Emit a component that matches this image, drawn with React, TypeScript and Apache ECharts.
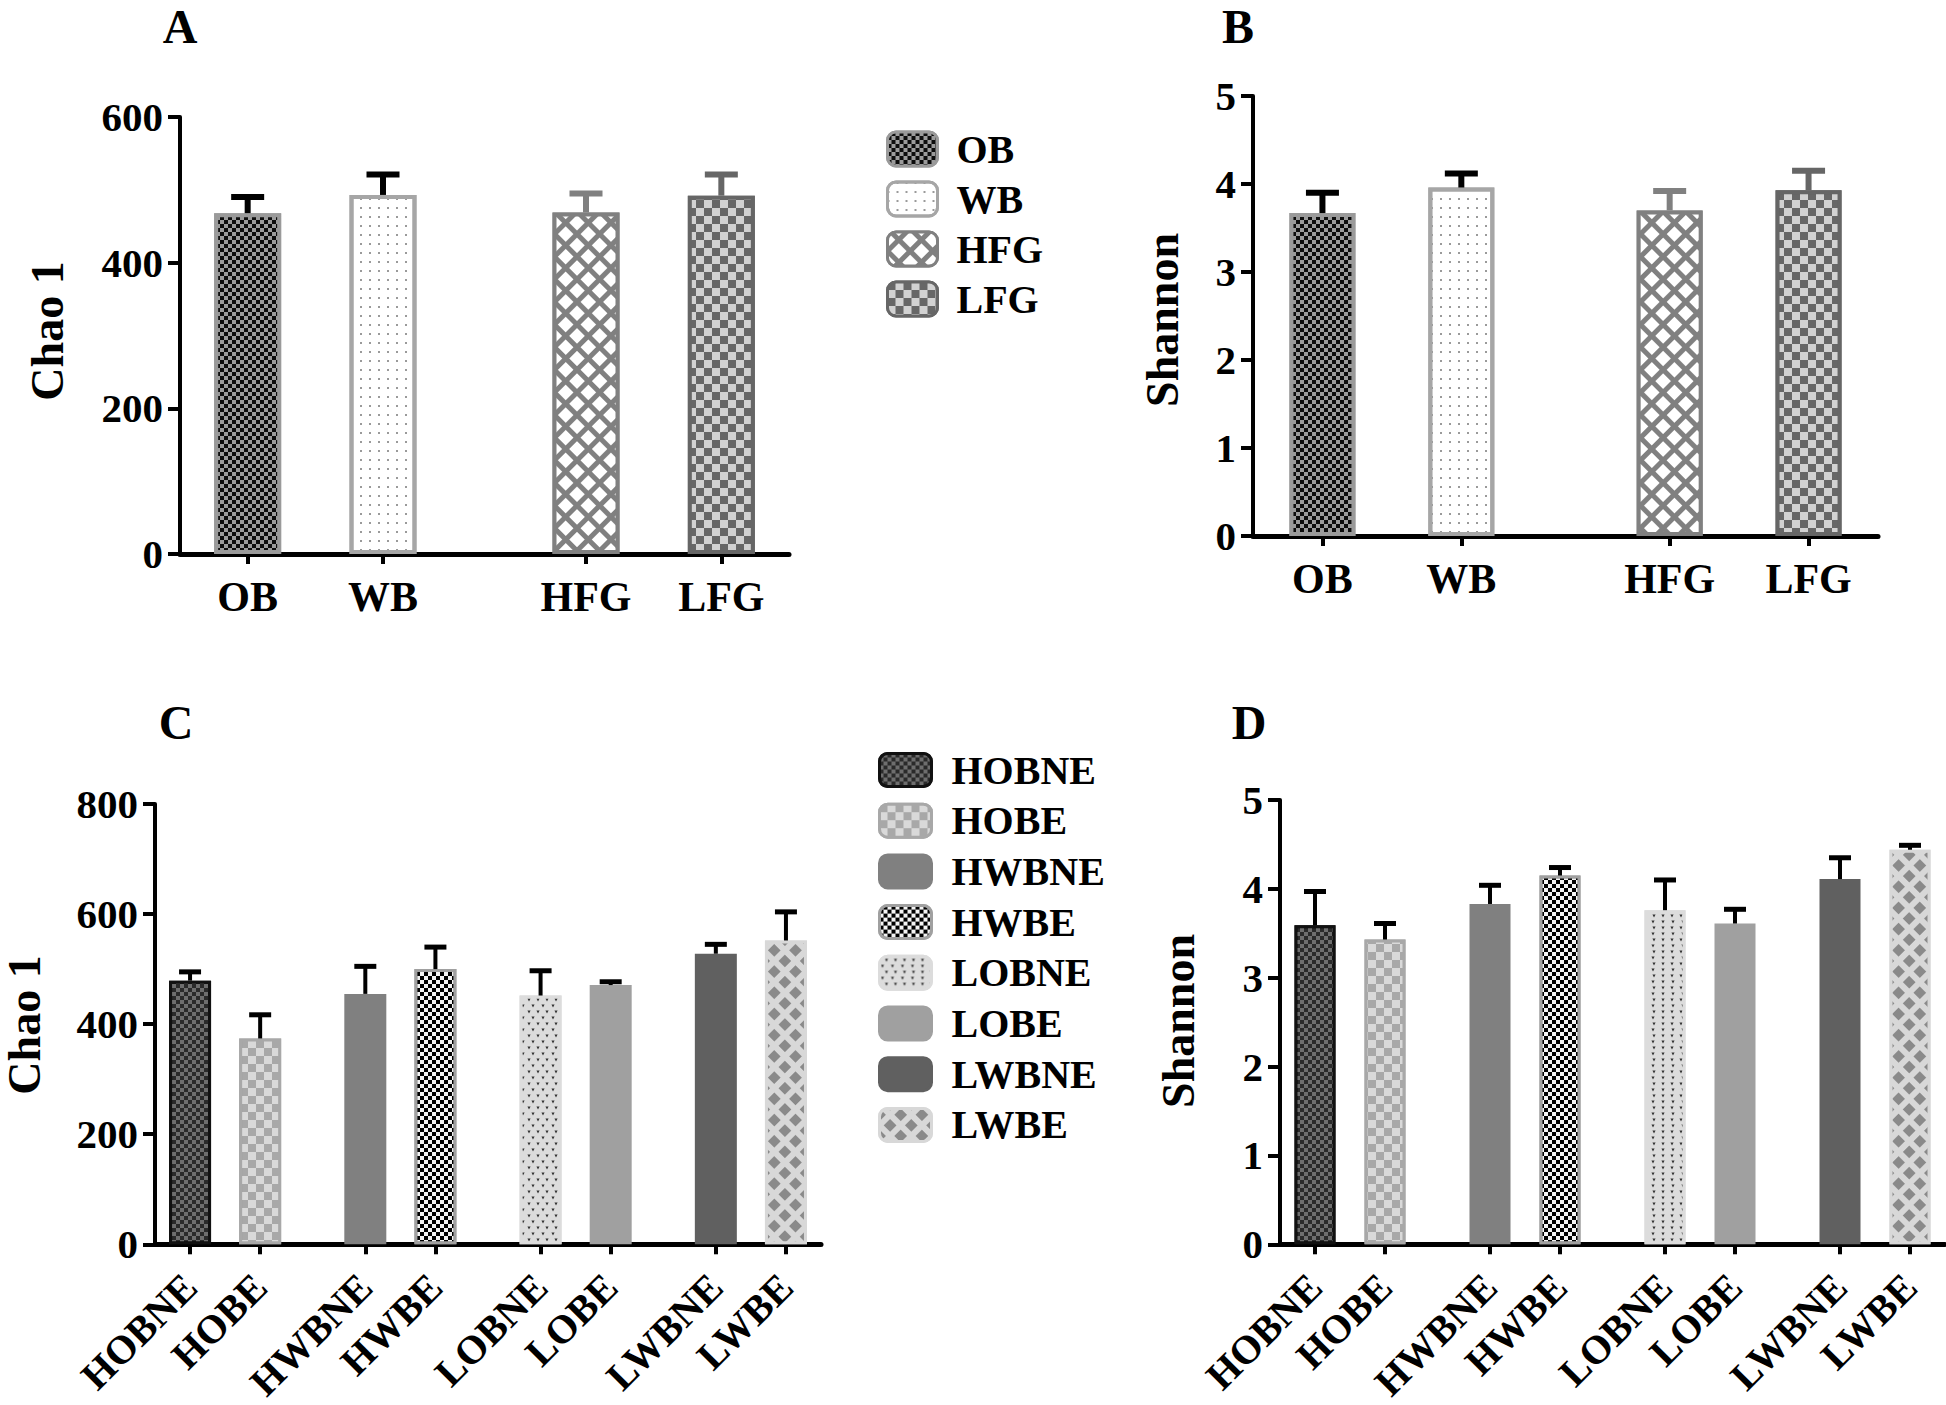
import React, { useEffect, useRef } from 'react';
import * as echarts from 'echarts';

// ---------------- data ----------------
const groupsAB = ['OB', 'WB', 'HFG', 'LFG'];
const chaoAB = [468, 493, 469, 492];
const chaoABUpper = [490, 521, 495, 521];
const shannonAB = [3.67, 3.96, 3.7, 3.93];
const shannonABUpper = [3.9, 4.12, 3.92, 4.15];

const groupsCD = ['HOBNE', 'HOBE', 'HWBNE', 'HWBE', 'LOBNE', 'LOBE', 'LWBNE', 'LWBE'];
const chaoCD = [479, 374, 455, 500, 452, 471, 528, 552];
const chaoCDUpper = [495, 417, 505, 540, 497, 477, 545, 604];
const shannonCD = [3.59, 3.43, 3.83, 4.15, 3.76, 3.61, 4.11, 4.44];
const shannonCDUpper = [3.97, 3.61, 4.04, 4.24, 4.1, 3.77, 4.35, 4.49];

const chaoTicksA = [0, 200, 400, 600];
const shannonTicks = [0, 1, 2, 3, 4, 5];
const chaoTicksC = [0, 200, 400, 600, 800];

const panelTitles = ['A', 'B', 'C', 'D'];
const yNames = ['Chao 1', 'Shannon', 'Chao 1', 'Shannon'];

// ---------------- styles / layout ----------------
const FONT = '"Liberation Serif", "Times New Roman", Times, serif';

function checker(bg: string, fg: string, s: number) {
  return {
    color: bg,
    decal: {
      symbol: 'rect',
      symbolSize: 1,
      color: fg,
      backgroundColor: bg,
      dashArrayX: [[s, s], [0, s, s, 0]],
      dashArrayY: [s, 0],
    },
  };
}

const stylesAB = [
  { ...checker('#9b9b9b', '#0d0d0d', 3.5), borderColor: '#9a9a9a', err: '#000000' },
  {
    color: '#ffffff',
    decal: { symbol: 'rect', symbolSize: 1, color: '#9a9a9a', backgroundColor: '#ffffff', dashArrayX: [2, 7], dashArrayY: [2, 6.5] },
    borderColor: '#a6a6a6',
    err: '#000000',
  },
  {
    color: '#808080',
    decal: { symbol: 'rect', symbolSize: 1, color: '#ffffff', backgroundColor: '#808080', dashArrayX: [10.5, 4.3], dashArrayY: [10.5, 4.3], rotation: Math.PI / 4 },
    borderColor: '#808080',
    err: '#808080',
  },
  { ...checker('#676767', '#d2d2d2', 8), borderColor: '#666666', err: '#666666' },
];

const stylesCD = [
  { ...checker('#2a2a2a', '#6e6e6e', 3.5), borderColor: '#111111', err: '#000000' },
  { ...checker('#a8a8a8', '#d9d9d9', 8), borderColor: '#a8a8a8', err: '#000000' },
  { color: '#808080', borderColor: '#808080', err: '#000000' },
  { ...checker('#f4f4f4', '#000000', 4), borderColor: '#a0a0a0', err: '#000000' },
  {
    color: '#dcdcdc',
    decal: { symbol: 'triangle', symbolSize: 0.8, color: '#333333', backgroundColor: '#dcdcdc', dashArrayX: [[4, 5], [0, 4.5, 4, 0.5]], dashArrayY: [4, 2], rotation: Math.PI },
    borderColor: '#dcdcdc',
    err: '#000000',
  },
  { color: '#a0a0a0', borderColor: '#a0a0a0', err: '#000000' },
  { color: '#606060', borderColor: '#606060', err: '#000000' },
  {
    color: '#d8d8d8',
    decal: { symbol: 'rect', symbolSize: 1, color: '#8a8a8a', backgroundColor: '#d8d8d8', dashArrayX: [9, 6], dashArrayY: [9, 6], rotation: Math.PI / 4 },
    borderColor: '#d8d8d8',
    err: '#000000',
  },
];

const LAYOUT = [
  {
    grid: { left: 180, top: 117, width: 609, height: 437 },
    slots: [1, 3, 6, 8], n: 10, barW: 67, bw: 4,
    stem: 6, capW: 33, capT: 6,
    label: { rotate: 0, size: 42, margin: 22 },
    title: [180, 2], yName: [47, 331],
  },
  {
    grid: { left: 1253, top: 96, width: 625, height: 440 },
    slots: [1, 3, 6, 8], n: 10, barW: 66, bw: 4,
    stem: 6, capW: 33, capT: 6,
    label: { rotate: 0, size: 42, margin: 22 },
    title: [1238, 2], yName: [1162, 320],
  },
  {
    grid: { left: 155, top: 804, width: 666, height: 448 },
    slots: [1, 3, 6, 8, 11, 13, 16, 18], n: 20, barW: 42, bw: 3,
    stem: 4, capW: 22, capT: 5,
    label: { rotate: 45, size: 40, margin: 36 },
    title: [176, 698], yName: [24, 1025],
  },
  {
    grid: { left: 1280, top: 800, width: 665, height: 446 },
    slots: [1, 3, 6, 8, 11, 13, 16, 18], n: 20, barW: 41, bw: 3,
    stem: 4, capW: 22, capT: 5,
    label: { rotate: 45, size: 40, margin: 36 },
    title: [1249, 698], yName: [1178, 1021],
  },
];

function buildOption() {
  const panels = [
    { groups: groupsAB, means: chaoAB, uppers: chaoABUpper, ticks: chaoTicksA, styles: stylesAB },
    { groups: groupsAB, means: shannonAB, uppers: shannonABUpper, ticks: shannonTicks, styles: stylesAB },
    { groups: groupsCD, means: chaoCD, uppers: chaoCDUpper, ticks: chaoTicksC, styles: stylesCD },
    { groups: groupsCD, means: shannonCD, uppers: shannonCDUpper, ticks: shannonTicks, styles: stylesCD },
  ];

  const grid: any[] = [];
  const xAxis: any[] = [];
  const yAxis: any[] = [];
  const series: any[] = [];
  const graphic: any[] = [];

  panels.forEach((pn, p) => {
    const L = LAYOUT[p];
    grid.push({ ...L.grid, containLabel: false });
    const slotSet = new Set(L.slots);
    const cats = Array.from({ length: L.n }, (_, i) => {
      const k = L.slots.indexOf(i);
      return k >= 0 ? pn.groups[k] : `gap${i}`;
    });
    xAxis.push({
      type: 'category',
      gridIndex: p,
      data: cats,
      boundaryGap: false,
      axisLine: { show: true, lineStyle: { color: '#000', width: 5 } },
      axisTick: { show: true, interval: (i: number) => slotSet.has(i), length: 10, lineStyle: { color: '#000', width: 4 } },
      axisLabel: {
        interval: (i: number) => slotSet.has(i),
        rotate: L.label.rotate,
        margin: L.label.margin,
        color: '#000',
        fontFamily: FONT,
        fontWeight: 'bold',
        fontSize: L.label.size,
      },
      splitLine: { show: false },
    });
    yAxis.push({
      type: 'value',
      gridIndex: p,
      min: pn.ticks[0],
      max: pn.ticks[pn.ticks.length - 1],
      interval: pn.ticks[1] - pn.ticks[0],
      axisLine: { show: true, lineStyle: { color: '#000', width: 4 } },
      axisTick: { show: true, length: 12, lineStyle: { color: '#000', width: 4 } },
      splitLine: { show: false },
      axisLabel: { color: '#000', fontFamily: FONT, fontWeight: 'bold', fontSize: 41, margin: 17 },
    });

    pn.groups.forEach((g, gi) => {
      const st: any = pn.styles[gi];
      series.push({
        type: 'bar',
        name: g,
        xAxisIndex: p,
        yAxisIndex: p,
        barWidth: L.barW,
        barGap: '-100%',
        silent: true,
        emphasis: { disabled: true },
        data: cats.map((_, ci) => (ci === L.slots[gi] ? pn.means[gi] : '-')),
        itemStyle: {
          color: st.color,
          decal: st.decal,
          borderColor: st.borderColor,
          borderWidth: L.bw,
        },
        z: 2,
      });
    });

    const errColors = pn.styles.map((s: any) => s.err);
    series.push({
      type: 'custom',
      name: 'err' + p,
      xAxisIndex: p,
      yAxisIndex: p,
      silent: true,
      z: 3,
      data: pn.groups.map((_, gi) => [L.slots[gi], pn.means[gi], pn.uppers[gi]]),
      renderItem: (params: any, api: any) => {
        const x = api.value(0);
        const p0 = api.coord([x, api.value(1)]);
        const p1 = api.coord([x, api.value(2)]);
        const c = errColors[params.dataIndex];
        return {
          type: 'group',
          children: [
            { type: 'line', shape: { x1: p0[0], y1: p0[1], x2: p1[0], y2: p1[1] }, style: { stroke: c, lineWidth: L.stem } },
            { type: 'line', shape: { x1: p1[0] - L.capW / 2, y1: p1[1], x2: p1[0] + L.capW / 2, y2: p1[1] }, style: { stroke: c, lineWidth: L.capT } },
          ],
        };
      },
    });

    graphic.push({
      type: 'text',
      x: L.title[0],
      y: L.title[1],
      style: { text: panelTitles[p], font: `bold 48px ${FONT}`, fill: '#000', align: 'center', verticalAlign: 'top' },
    });
    graphic.push({
      type: 'text',
      x: L.yName[0],
      y: L.yName[1],
      rotation: Math.PI / 2,
      style: { text: yNames[p], font: `bold 46px ${FONT}`, fill: '#000', align: 'center', verticalAlign: 'middle' },
    });
  });

  const legendText = { fontFamily: FONT, fontWeight: 'bold', fontSize: 40, color: '#000' };
  const legend = [
    {
      data: groupsAB,
      orient: 'vertical',
      left: 881,
      top: 124,
      itemWidth: 50,
      itemHeight: 34,
      itemGap: 10,
      selectedMode: false,
      icon: 'roundRect',
      itemStyle: { borderWidth: 3 },
      textStyle: { ...legendText, padding: [0, 0, 0, 14] },
    },
    {
      data: groupsCD,
      orient: 'vertical',
      left: 873,
      top: 745,
      itemWidth: 52,
      itemHeight: 33,
      itemGap: 10.7,
      selectedMode: false,
      icon: 'roundRect',
      itemStyle: { borderWidth: 3 },
      textStyle: { ...legendText, padding: [0, 0, 0, 15] },
    },
  ];

  return {
    animation: false,
    backgroundColor: '#ffffff',
    grid,
    xAxis,
    yAxis,
    series,
    legend,
    graphic,
  };
}

export default function App() {
  const ref = useRef<HTMLDivElement>(null);
  useEffect(() => {
    const chart = echarts.init(ref.current as HTMLDivElement, null, { renderer: 'svg' });
    chart.setOption(buildOption() as any);
    return () => {
      chart.dispose();
    };
  }, []);
  return (
    <div
      ref={ref}
      style={{ position: 'absolute', left: 0, top: 0, width: 1946, height: 1405, background: '#ffffff' }}
    />
  );
}
